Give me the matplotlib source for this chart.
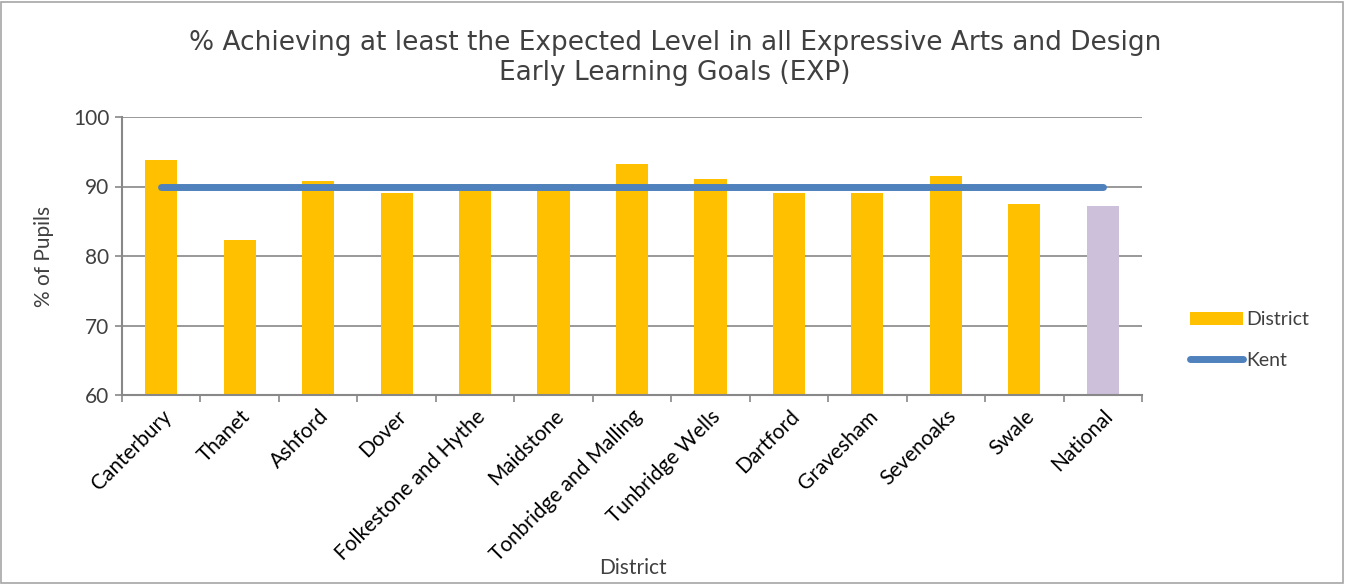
import matplotlib.pyplot as plt
import numpy as np
from matplotlib.patches import Rectangle

plt.rcParams["font.family"] = ["Lato", "DejaVu Sans"]

districts = ["Canterbury", "Thanet", "Ashford", "Dover", "Folkestone and Hythe",
             "Maidstone", "Tonbridge and Malling", "Tunbridge Wells", "Dartford",
             "Gravesham", "Sevenoaks", "Swale", "National"]
district_pct = [93.8, 82.3, 90.8, 89.0, 90.3, 90.3, 93.2, 91.1, 89.0, 89.0, 91.5, 87.5, 87.2]
kent_pct = [89.9] * len(districts)

bar_colors = ["#FFC000"] * 12 + ["#CCC0DA"]
grey = "#888888"
text_col = "#404040"

fig = plt.figure(figsize=(13.46, 5.84), dpi=100)
ax = fig.add_axes([122 / 1346, 1 - 395 / 584, 1020 / 1346, 278 / 584])

x = np.arange(len(districts))
bars = ax.bar(x, district_pct, width=0.41, color=bar_colors, label="District", zorder=2)
line, = ax.plot(x, kent_pct, color="#4F81BD", linewidth=5, solid_capstyle="round",
                label="Kent", zorder=3)

ax.set_ylim(60, 100)
ax.set_xlim(-0.5, len(districts) - 0.5)
ax.set_yticks([60, 70, 80, 90, 100])
ax.yaxis.grid(True, color=grey, linewidth=1.2, zorder=0)
ax.set_xticks(np.arange(len(districts) + 1) - 0.5, minor=False)
ax.set_xticklabels([])
ax.set_xticks(x, minor=True)
ax.set_xticklabels(districts, minor=True, rotation=45, ha="right",
                   rotation_mode="anchor", fontsize=15, color="black")
ax.tick_params(axis="x", which="minor", length=0, pad=8)
ax.tick_params(axis="x", which="major", length=5, color=grey, width=1.2)
ax.tick_params(axis="y", length=5, color=grey, width=1.2, labelsize=15,
               labelcolor=text_col, pad=4)

for side in ["top", "right"]:
    ax.spines[side].set_visible(False)
for side in ["left", "bottom"]:
    ax.spines[side].set_color(grey)
    ax.spines[side].set_linewidth(1.5)

ax.set_ylabel("% of Pupils", fontsize=15, color=text_col, labelpad=14)
fig.text(633 / 1346, 1 - 568 / 584, "District", fontsize=15, color=text_col,
         ha="center", va="center")

fig.text(675 / 1346, 1 - 58 / 584,
         "% Achieving at least the Expected Level in all Expressive Arts and Design\n"
         "Early Learning Goals (EXP)",
         fontsize=19, color=text_col, ha="center", va="center", linespacing=1.2,
         family="DejaVu Sans")

ax.legend([bars, line], ["District", "Kent"], loc="center left",
          bbox_to_anchor=(1.03, 0.198), frameon=False,
          fontsize=14, labelcolor=text_col, handlelength=2.7, handleheight=0.6,
          labelspacing=1.2, handletextpad=0.2)

fig.patches.append(Rectangle((0.001, 0.002), 0.997, 0.995, transform=fig.transFigure,
                             fill=False, edgecolor="#A6A6A6", linewidth=1.2))

fig.savefig("out.png", dpi=100)
